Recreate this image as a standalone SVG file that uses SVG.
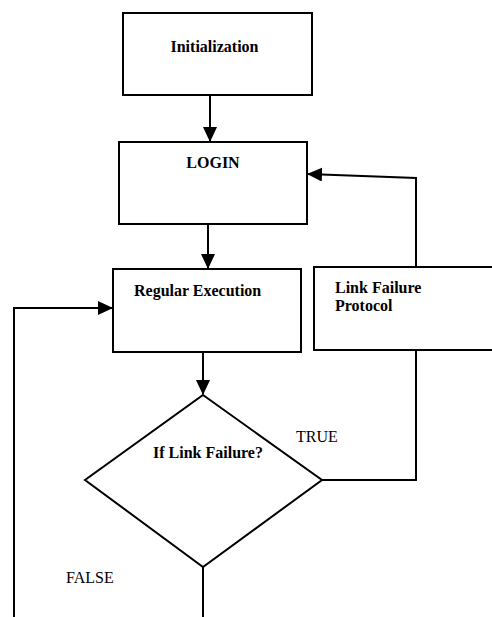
<svg xmlns="http://www.w3.org/2000/svg" width="492" height="617" viewBox="0 0 492 617">
<defs>
<marker id="ah" markerWidth="15" markerHeight="14" refX="14" refY="7" orient="auto" markerUnits="userSpaceOnUse"><path d="M0,0 L15,7 L0,14 Z" fill="#000"/></marker>
<style>
.box{fill:#fff;stroke:#000;stroke-width:2}
.ln{fill:none;stroke:#000;stroke-width:2}
.b{font-family:"Liberation Serif","Times New Roman",serif;font-weight:bold;font-size:16px;fill:#000}
.r{font-family:"Liberation Serif","Times New Roman",serif;font-size:16px;fill:#000}
</style>
</defs>
<rect width="492" height="617" fill="#fff"/>
<g id="connectors">
<path class="ln" d="M210,95 V141" marker-end="url(#ah)"/>
<path class="ln" d="M208,224 V268" marker-end="url(#ah)"/>
<path class="ln" d="M203,352 V394" marker-end="url(#ah)"/>
<path class="ln" d="M416,267 V178 L308,174" marker-end="url(#ah)"/>
<path class="ln" d="M416,350 V480 H322"/>
<path class="ln" d="M203,567 V617"/>
<path class="ln" d="M14,617 V308 H112" marker-end="url(#ah)"/>
</g>
<g id="init"><rect class="box" x="123" y="13" width="189" height="82"/><text class="b" x="214.5" y="52" text-anchor="middle">Initialization</text></g>
<g id="login"><rect class="box" x="119" y="142" width="188" height="82"/><text class="b" x="213" y="168" text-anchor="middle">LOGIN</text></g>
<g id="regular"><rect class="box" x="113" y="269" width="188" height="83"/><text class="b" x="134" y="296">Regular Execution</text></g>
<g id="lfp"><rect class="box" x="314" y="267" width="190" height="83"/><text class="b" x="335" y="293">Link Failure</text><text class="b" x="335" y="311">Protocol</text></g>
<g id="decision"><polygon class="box" points="203,395 322,480 203,567 85,480"/><text class="b" x="208" y="458" text-anchor="middle">If Link Failure?</text></g>
<text class="r" x="296" y="442">TRUE</text>
<text class="r" x="66" y="583">FALSE</text>
</svg>
